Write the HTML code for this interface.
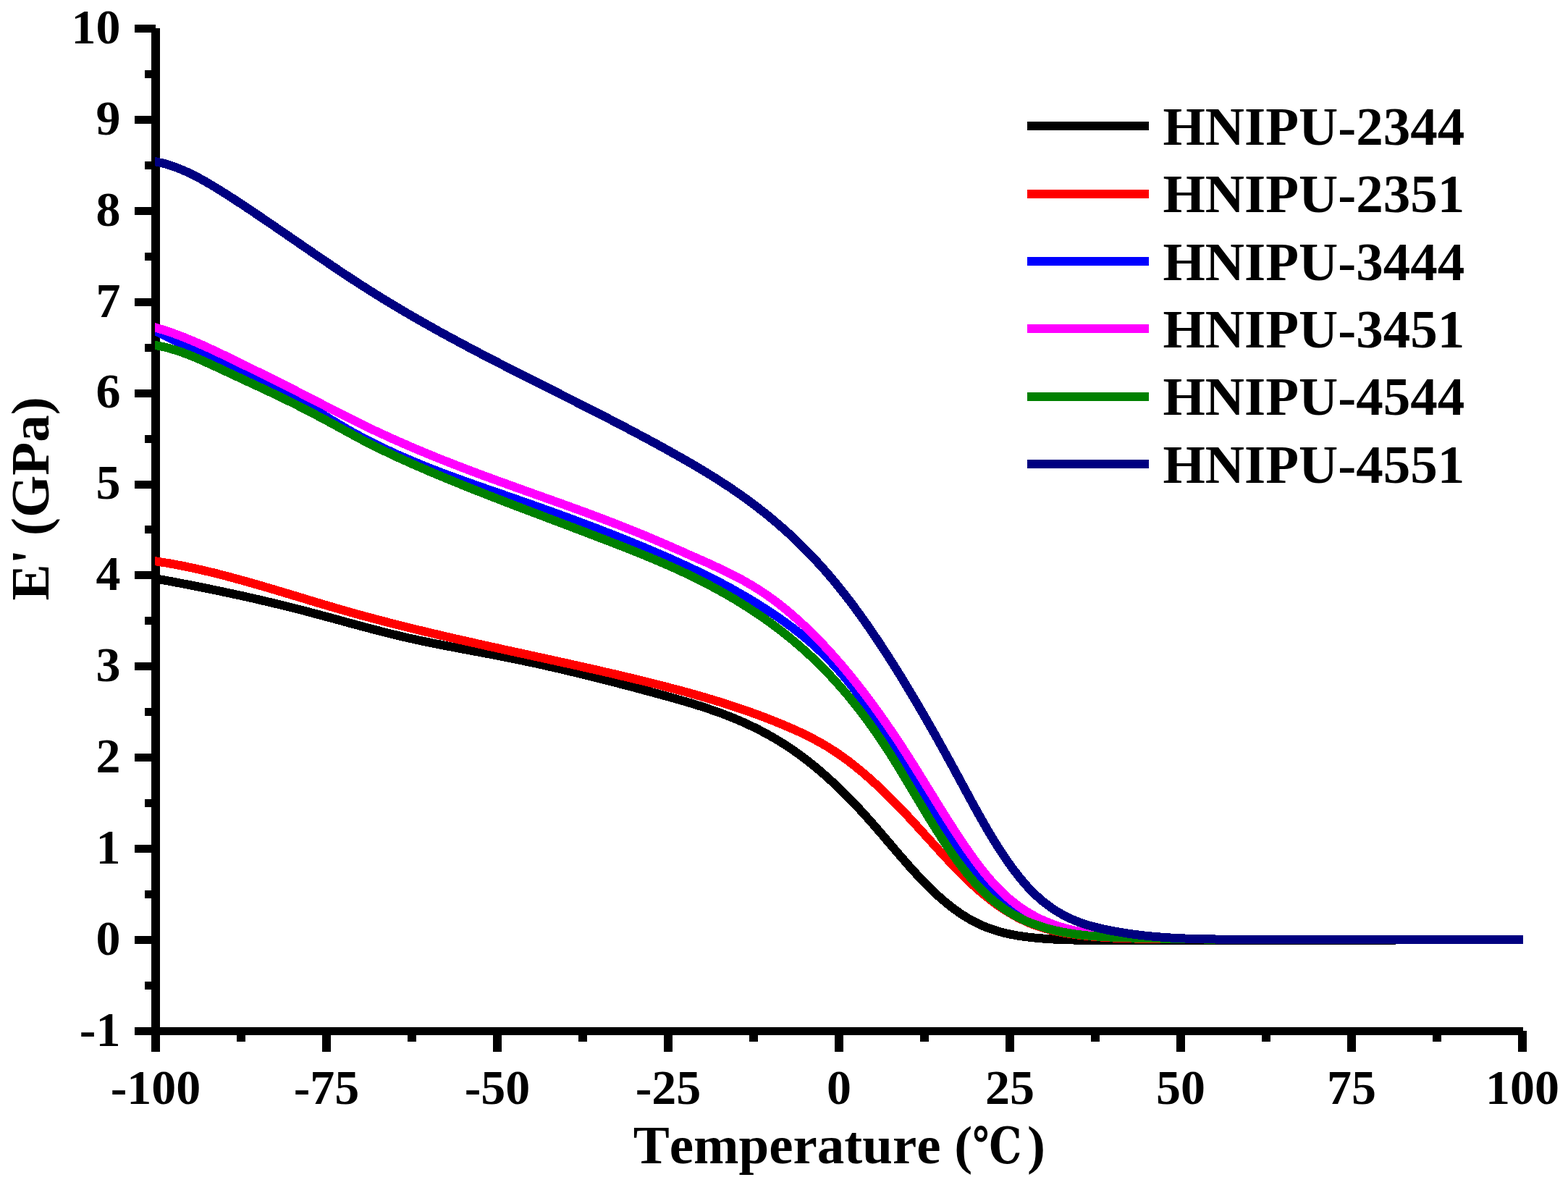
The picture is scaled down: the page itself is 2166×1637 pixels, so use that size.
<!DOCTYPE html>
<html lang="en"><head><meta charset="utf-8"><title>E' (GPa) vs Temperature</title>
<style>html,body{margin:0;padding:0;background:#fff;}body{width:2166px;height:1637px;overflow:hidden;}svg{display:block;}text{font-family:"Liberation Serif","Noto Serif CJK SC",serif;font-weight:bold;fill:#000;font-kerning:none;font-variant-ligatures:none;}.dc{font-family:"DejaVu Serif","Noto Serif CJK SC",serif;font-size:100px;}.tk{font-size:68px;}.ti{font-size:75px;}.lg{font-size:75px;}</style></head>
<body>
<svg width="2166" height="1637" viewBox="0 0 2166 1637">
<rect x="0" y="0" width="2166" height="1637" fill="#ffffff"/>
<g fill="#000" shape-rendering="crispEdges">
<rect x="209" y="39" width="12" height="1386"/>
<rect x="215" y="1419" width="1889" height="11"/>
<rect x="186" y="1419" width="29" height="11"/>
<rect x="200" y="1356" width="15" height="11"/>
<rect x="186" y="1293" width="29" height="11"/>
<rect x="200" y="1230" width="15" height="11"/>
<rect x="186" y="1167" width="29" height="11"/>
<rect x="200" y="1104" width="15" height="11"/>
<rect x="186" y="1041" width="29" height="11"/>
<rect x="200" y="978" width="15" height="11"/>
<rect x="186" y="915" width="29" height="11"/>
<rect x="200" y="852" width="15" height="11"/>
<rect x="186" y="789" width="29" height="11"/>
<rect x="200" y="726" width="15" height="11"/>
<rect x="186" y="664" width="29" height="11"/>
<rect x="200" y="601" width="15" height="11"/>
<rect x="186" y="538" width="29" height="11"/>
<rect x="200" y="475" width="15" height="11"/>
<rect x="186" y="412" width="29" height="11"/>
<rect x="200" y="349" width="15" height="11"/>
<rect x="186" y="286" width="29" height="11"/>
<rect x="200" y="223" width="15" height="11"/>
<rect x="186" y="160" width="29" height="11"/>
<rect x="200" y="97" width="15" height="11"/>
<rect x="186" y="34" width="29" height="11"/>
<rect x="209" y="1424" width="12" height="29"/>
<rect x="327" y="1424" width="12" height="15"/>
<rect x="445" y="1424" width="12" height="29"/>
<rect x="563" y="1424" width="12" height="15"/>
<rect x="681" y="1424" width="12" height="29"/>
<rect x="799" y="1424" width="12" height="15"/>
<rect x="917" y="1424" width="12" height="29"/>
<rect x="1035" y="1424" width="12" height="15"/>
<rect x="1153" y="1424" width="12" height="29"/>
<rect x="1271" y="1424" width="12" height="15"/>
<rect x="1389" y="1424" width="12" height="29"/>
<rect x="1507" y="1424" width="12" height="15"/>
<rect x="1625" y="1424" width="12" height="29"/>
<rect x="1743" y="1424" width="12" height="15"/>
<rect x="1861" y="1424" width="12" height="29"/>
<rect x="1979" y="1424" width="12" height="15"/>
<rect x="2097" y="1424" width="12" height="29"/>
</g>
<g class="tk" text-anchor="end">
<text x="166.5" y="1444.8">-1</text>
<text x="166.5" y="1318.9">0</text>
<text x="166.5" y="1193">1</text>
<text x="166.5" y="1067.1">2</text>
<text x="166.5" y="941.2">3</text>
<text x="166.5" y="815.3">4</text>
<text x="166.5" y="689.3">5</text>
<text x="166.5" y="563.4">6</text>
<text x="166.5" y="437.5">7</text>
<text x="166.5" y="311.6">8</text>
<text x="166.5" y="185.7">9</text>
<text x="166.5" y="59.8">10</text>
</g>
<g class="tk" text-anchor="middle">
<text x="215" y="1525">-100</text>
<text x="451" y="1525">-75</text>
<text x="687" y="1525">-50</text>
<text x="923" y="1525">-25</text>
<text x="1159" y="1525">0</text>
<text x="1395" y="1525">25</text>
<text x="1631" y="1525">50</text>
<text x="1867" y="1525">75</text>
<text x="2103" y="1525">100</text>
</g>
<text class="ti" x="874.7" y="1607">Temperature (</text>
<text class="dc" transform="translate(1343.5 1607.2) scale(0.567 0.695)">℃</text>
<text class="ti" x="1419" y="1607">)</text>
<text class="ti" text-anchor="middle" transform="translate(67 689) rotate(-90)">E' (GPa)</text>
<defs><clipPath id="plot"><rect x="214" y="0" width="1890" height="1637"/></clipPath></defs>
<g fill="none" stroke-width="12" stroke-linejoin="round" stroke-linecap="butt" shape-rendering="crispEdges" clip-path="url(#plot)">
<polyline stroke="#000000" points="207,797.8 215,799.2 219,800 223,800.7 227,801.5 231,802.2 235,802.9 239,803.7 243,804.5 247,805.2 251,806 255,806.8 259,807.5 263,808.3 267,809.1 271,809.9 275,810.7 279,811.5 283,812.3 287,813.1 291,813.9 295,814.8 299,815.6 303,816.4 307,817.3 311,818.1 315,819 319,819.8 323,820.7 327,821.6 331,822.4 335,823.3 339,824.2 343,825.1 347,826 351,826.9 355,827.8 359,828.7 363,829.7 367,830.6 371,831.6 375,832.5 379,833.5 383,834.4 387,835.4 391,836.4 395,837.4 399,838.4 403,839.4 407,840.4 411,841.4 415,842.4 419,843.4 423,844.5 427,845.5 431,846.6 435,847.7 439,848.7 443,849.8 447,850.9 451,852 455,853 459,854.1 463,855.2 467,856.3 471,857.4 475,858.5 479,859.6 483,860.7 487,861.8 491,862.8 495,863.9 499,865 503,866.1 507,867.1 511,868.2 515,869.2 519,870.3 523,871.3 527,872.4 531,873.4 535,874.4 539,875.4 543,876.4 547,877.3 551,878.3 555,879.2 559,880.2 563,881.1 567,882 571,882.9 575,883.7 579,884.6 583,885.5 587,886.3 591,887.1 595,887.9 599,888.8 603,889.6 607,890.3 611,891.1 615,891.9 619,892.7 623,893.4 627,894.2 631,895 635,895.7 639,896.5 643,897.2 647,898 651,898.7 655,899.5 659,900.2 663,901 667,901.7 671,902.5 675,903.2 679,904 683,904.8 687,905.5 691,906.3 695,907.1 699,907.9 703,908.7 707,909.5 711,910.3 715,911.1 719,912 723,912.8 727,913.7 731,914.5 735,915.4 739,916.2 743,917.1 747,918 751,918.9 755,919.8 759,920.7 763,921.6 767,922.5 771,923.4 775,924.4 779,925.3 783,926.2 787,927.2 791,928.2 795,929.1 799,930.1 803,931 807,932 811,933 815,934 819,935 823,936 827,937 831,938 835,939 839,940 843,941.1 847,942.1 851,943.1 855,944.2 859,945.2 863,946.2 867,947.3 871,948.3 875,949.4 879,950.5 883,951.5 887,952.6 891,953.7 895,954.8 899,955.8 903,956.9 907,958 911,959.1 915,960.2 919,961.3 923,962.4 927,963.5 931,964.6 935,965.8 939,966.9 943,968.1 947,969.2 951,970.4 955,971.6 959,972.8 963,974.1 967,975.3 971,976.6 975,977.9 979,979.3 983,980.7 987,982.1 991,983.5 995,984.9 999,986.4 1003,988 1007,989.5 1011,991.1 1015,992.7 1019,994.4 1023,996.1 1027,997.9 1031,999.7 1035,1001.6 1039,1003.5 1043,1005.4 1047,1007.4 1051,1009.5 1055,1011.6 1059,1013.8 1063,1016 1067,1018.2 1071,1020.6 1075,1023 1079,1025.4 1083,1027.9 1087,1030.5 1091,1033.2 1095,1035.9 1099,1038.7 1103,1041.5 1107,1044.5 1111,1047.5 1115,1050.5 1119,1053.7 1123,1056.9 1127,1060.2 1131,1063.5 1135,1066.9 1139,1070.4 1143,1074 1147,1077.6 1151,1081.3 1155,1085 1159,1088.8 1163,1092.7 1167,1096.7 1171,1100.7 1175,1104.7 1179,1108.9 1183,1113.1 1187,1117.4 1191,1121.7 1195,1126.1 1199,1130.6 1203,1135.1 1207,1139.6 1211,1144.2 1215,1148.9 1219,1153.5 1223,1158.2 1227,1162.9 1231,1167.6 1235,1172.3 1239,1177 1243,1181.6 1247,1186.2 1251,1190.8 1255,1195.4 1259,1199.9 1263,1204.3 1267,1208.6 1271,1212.9 1275,1217.1 1279,1221.2 1283,1225.3 1287,1229.2 1291,1233 1295,1236.7 1299,1240.3 1303,1243.7 1307,1247.1 1311,1250.3 1315,1253.5 1319,1256.5 1323,1259.3 1327,1262.1 1331,1264.7 1335,1267.2 1339,1269.6 1343,1271.8 1347,1273.9 1351,1275.9 1355,1277.7 1359,1279.5 1363,1281.1 1367,1282.6 1371,1284 1375,1285.3 1379,1286.5 1383,1287.6 1387,1288.7 1391,1289.6 1395,1290.5 1399,1291.3 1403,1292 1407,1292.7 1411,1293.3 1415,1293.9 1419,1294.4 1423,1294.9 1427,1295.3 1431,1295.7 1435,1296.1 1439,1296.4 1443,1296.7 1447,1297 1451,1297.3 1455,1297.5 1459,1297.7 1463,1297.9 1467,1298 1471,1298.2 1475,1298.3 1479,1298.4 1483,1298.5 1487,1298.5 1491,1298.6 1495,1298.6 1499,1298.6 1503,1298.6 1507,1298.6 1511,1298.6 1515,1298.6 1519,1298.6 1523,1298.6 1527,1298.6 1531,1298.6 1535,1298.6 1539,1298.6 1543,1298.6 1547,1298.6 1551,1298.6 1555,1298.6 1559,1298.6 1563,1298.6 1567,1298.6 1571,1298.6 1575,1298.6 1579,1298.6 1583,1298.6 1587,1298.6 1591,1298.6 1595,1298.6 1599,1298.6 1603,1298.6 1607,1298.6 1611,1298.6 1615,1298.6 1619,1298.6 1623,1298.6 1627,1298.6 1631,1298.6 1635,1298.6 1639,1298.6 1643,1298.6 1647,1298.6 1651,1298.6 1655,1298.6 1659,1298.6 1663,1298.6 1667,1298.6 1671,1298.6 1675,1298.6 1679,1298.6 1683,1298.6 1687,1298.6 1691,1298.6 1695,1298.6 1699,1298.6 1703,1298.6 1707,1298.6 1711,1298.6 1715,1298.6 1719,1298.6 1723,1298.6 1727,1298.6 1731,1298.6 1735,1298.6 1739,1298.6 1743,1298.6 1747,1298.6 1751,1298.6 1755,1298.6 1759,1298.6 1763,1298.6 1767,1298.6 1771,1298.6 1775,1298.6 1779,1298.6 1783,1298.6 1787,1298.6 1791,1298.6 1795,1298.6 1799,1298.6 1803,1298.6 1807,1298.6 1811,1298.6 1815,1298.6 1819,1298.6 1823,1298.6 1827,1298.6 1831,1298.6 1835,1298.6 1839,1298.6 1843,1298.6 1847,1298.6 1851,1298.6 1855,1298.6 1859,1298.6 1863,1298.6 1867,1298.6 1871,1298.6 1875,1298.6 1879,1298.6 1883,1298.6 1887,1298.6 1891,1298.6 1895,1298.6 1899,1298.6 1903,1298.6 1907,1298.6 1911,1298.6 1915,1298.6 1919,1298.6 1923,1298.6 1927,1298.6 1931,1298 1935,1298 1939,1298 1943,1298 1947,1298 1951,1298 1955,1298 1959,1298 1963,1298 1967,1298 1971,1298 1975,1298 1979,1298 1983,1298 1987,1298 1991,1298 1995,1298 1999,1298 2003,1298 2007,1298 2011,1298 2015,1298 2019,1298 2023,1298 2027,1298 2031,1298 2035,1298 2039,1298 2043,1298 2047,1298 2051,1298 2055,1298 2059,1298 2063,1298 2067,1298 2071,1298 2075,1298 2079,1298 2083,1298 2087,1298 2091,1298 2095,1298 2099,1298 2103,1298 2111,1298"/>
<polyline stroke="#ff0000" points="207,774.1 215,775.3 219,775.9 223,776.5 227,777.2 231,777.8 235,778.5 239,779.2 243,780 247,780.7 251,781.5 255,782.3 259,783.1 263,784 267,784.8 271,785.7 275,786.6 279,787.5 283,788.5 287,789.4 291,790.4 295,791.3 299,792.3 303,793.4 307,794.4 311,795.4 315,796.5 319,797.5 323,798.6 327,799.7 331,800.8 335,801.9 339,803 343,804.1 347,805.3 351,806.4 355,807.6 359,808.7 363,809.9 367,811.1 371,812.2 375,813.4 379,814.6 383,815.8 387,817 391,818.2 395,819.4 399,820.6 403,821.8 407,823 411,824.2 415,825.4 419,826.6 423,827.9 427,829.1 431,830.3 435,831.5 439,832.7 443,833.9 447,835.1 451,836.2 455,837.4 459,838.6 463,839.8 467,840.9 471,842.1 475,843.2 479,844.4 483,845.5 487,846.6 491,847.8 495,848.9 499,850 503,851.1 507,852.1 511,853.2 515,854.3 519,855.4 523,856.4 527,857.5 531,858.5 535,859.5 539,860.6 543,861.6 547,862.6 551,863.6 555,864.6 559,865.6 563,866.6 567,867.6 571,868.6 575,869.6 579,870.6 583,871.5 587,872.5 591,873.4 595,874.4 599,875.4 603,876.3 607,877.2 611,878.2 615,879.1 619,880 623,881 627,881.9 631,882.8 635,883.7 639,884.6 643,885.5 647,886.4 651,887.3 655,888.2 659,889.1 663,890 667,890.9 671,891.8 675,892.7 679,893.6 683,894.4 687,895.3 691,896.2 695,897.1 699,898 703,898.8 707,899.7 711,900.6 715,901.5 719,902.3 723,903.2 727,904.1 731,904.9 735,905.8 739,906.7 743,907.6 747,908.4 751,909.3 755,910.2 759,911.1 763,911.9 767,912.8 771,913.7 775,914.6 779,915.5 783,916.3 787,917.2 791,918.1 795,919 799,919.9 803,920.8 807,921.7 811,922.6 815,923.5 819,924.4 823,925.3 827,926.2 831,927.1 835,928.1 839,929 843,929.9 847,930.8 851,931.8 855,932.7 859,933.7 863,934.6 867,935.6 871,936.5 875,937.5 879,938.5 883,939.4 887,940.4 891,941.4 895,942.4 899,943.4 903,944.4 907,945.4 911,946.4 915,947.5 919,948.5 923,949.5 927,950.6 931,951.6 935,952.7 939,953.8 943,954.8 947,955.9 951,957 955,958.2 959,959.3 963,960.4 967,961.6 971,962.7 975,963.9 979,965.1 983,966.3 987,967.5 991,968.7 995,969.9 999,971.2 1003,972.5 1007,973.8 1011,975.1 1015,976.4 1019,977.7 1023,979.1 1027,980.4 1031,981.8 1035,983.2 1039,984.7 1043,986.1 1047,987.6 1051,989.1 1055,990.6 1059,992.1 1063,993.7 1067,995.2 1071,996.8 1075,998.5 1079,1000.1 1083,1001.8 1087,1003.5 1091,1005.2 1095,1006.9 1099,1008.7 1103,1010.5 1107,1012.4 1111,1014.3 1115,1016.3 1119,1018.3 1123,1020.4 1127,1022.5 1131,1024.7 1135,1026.9 1139,1029.2 1143,1031.6 1147,1034.1 1151,1036.7 1155,1039.3 1159,1042 1163,1044.8 1167,1047.7 1171,1050.6 1175,1053.7 1179,1056.8 1183,1060 1187,1063.3 1191,1066.6 1195,1070 1199,1073.5 1203,1077 1207,1080.7 1211,1084.3 1215,1088.1 1219,1091.9 1223,1095.7 1227,1099.7 1231,1103.6 1235,1107.6 1239,1111.7 1243,1115.9 1247,1120 1251,1124.2 1255,1128.5 1259,1132.8 1263,1137.1 1267,1141.5 1271,1145.9 1275,1150.3 1279,1154.7 1283,1159.1 1287,1163.5 1291,1167.9 1295,1172.3 1299,1176.7 1303,1181 1307,1185.3 1311,1189.6 1315,1193.8 1319,1198 1323,1202.1 1327,1206.2 1331,1210.2 1335,1214.1 1339,1217.9 1343,1221.7 1347,1225.3 1351,1228.9 1355,1232.4 1359,1235.7 1363,1239 1367,1242.2 1371,1245.2 1375,1248.2 1379,1251.1 1383,1253.8 1387,1256.5 1391,1259 1395,1261.4 1399,1263.8 1403,1266 1407,1268.1 1411,1270.1 1415,1272 1419,1273.8 1423,1275.5 1427,1277.1 1431,1278.6 1435,1279.9 1439,1281.3 1443,1282.5 1447,1283.6 1451,1284.7 1455,1285.7 1459,1286.6 1463,1287.4 1467,1288.2 1471,1289 1475,1289.6 1479,1290.2 1483,1290.8 1487,1291.3 1491,1291.8 1495,1292.3 1499,1292.7 1503,1293.1 1507,1293.5 1511,1293.8 1515,1294.1 1519,1294.4 1523,1294.7 1527,1294.9 1531,1295.2 1535,1295.4 1539,1295.6 1543,1295.8 1547,1295.9 1551,1296.1 1555,1296.2 1559,1296.3 1563,1296.4 1567,1296.5 1571,1296.6 1575,1296.7 1579,1296.8 1583,1296.8 1587,1296.9 1591,1296.9 1595,1297 1599,1297 1603,1297 1607,1297.1 1611,1297.1 1615,1297.1 1619,1297.1 1623,1297.1 1627,1297.2 1631,1297.2 1635,1297.2 1639,1297.2 1643,1296.7 1647,1296.9 1651,1297 1655,1297.1 1659,1297.2 1663,1297.3 1667,1297.3 1671,1297.4 1675,1297.4 1679,1297.5 1683,1297.5 1687,1297.6 1691,1297.6 1695,1297.6 1699,1297.6 1703,1297.6 1707,1297.6 1711,1297.6 1715,1297.6 1719,1297.6 1723,1297.6 1727,1297.6 1731,1297.6 1735,1297.6 1739,1297.6 1743,1297.6 1747,1297.6 1751,1297.6 1755,1297.6 1759,1297.6 1763,1297.6 1767,1297.6 1771,1297.7 1775,1297.7 1779,1297.7 1783,1297.7 1787,1297.7 1791,1297.7 1795,1297.7 1799,1297.7 1803,1297.7 1807,1297.7 1811,1297.7 1815,1297.7 1819,1297.7 1823,1297.8 1827,1297.8 1831,1297.8 1835,1297.8 1839,1297.8 1843,1297.8 1847,1297.8 1851,1297.8 1855,1297.8 1859,1297.9 1863,1297.9 1867,1297.9 1871,1297.9 1875,1297.9 1879,1297.9 1883,1297.9 1887,1297.9 1891,1298 1895,1298 1899,1298 1903,1298 1907,1298 1911,1298 1915,1298 1919,1298 1923,1298 1927,1298 1931,1298 1935,1298 1939,1298 1943,1298 1947,1298 1951,1298 1955,1298 1959,1298 1963,1298 1967,1298 1971,1298 1975,1298 1979,1298 1983,1298 1987,1298 1991,1298 1995,1298 1999,1298 2003,1298 2007,1298 2011,1298 2015,1298 2019,1298 2023,1298 2027,1298 2031,1298 2035,1298 2039,1298 2043,1298 2047,1298 2051,1298 2055,1298 2059,1298 2063,1298 2067,1298 2071,1298 2075,1298 2079,1298 2083,1298 2087,1298 2091,1298 2095,1298 2099,1298 2103,1298 2111,1298"/>
<polyline stroke="#0000ff" points="207,453.4 215,457.5 219,459.5 223,461.5 227,463.5 231,465.5 235,467.4 239,469.3 243,471.2 247,473.1 251,475 255,476.8 259,478.7 263,480.5 267,482.3 271,484.1 275,486 279,487.7 283,489.5 287,491.3 291,493.1 295,494.9 299,496.7 303,498.5 307,500.3 311,502.1 315,503.9 319,505.7 323,507.5 327,509.3 331,511.2 335,513 339,514.9 343,516.8 347,518.7 351,520.6 355,522.5 359,524.5 363,526.4 367,528.4 371,530.4 375,532.5 379,534.6 383,536.7 387,538.8 391,540.9 395,543.1 399,545.3 403,547.5 407,549.7 411,552 415,554.3 419,556.6 423,558.9 427,561.3 431,563.6 435,566 439,568.4 443,570.9 447,573.3 451,575.7 455,578.2 459,580.6 463,583 467,585.4 471,587.8 475,590.1 479,592.5 483,594.7 487,597 491,599.2 495,601.4 499,603.5 503,605.7 507,607.7 511,609.8 515,611.8 519,613.8 523,615.8 527,617.7 531,619.7 535,621.5 539,623.4 543,625.2 547,627.1 551,628.9 555,630.6 559,632.4 563,634.1 567,635.8 571,637.5 575,639.1 579,640.8 583,642.4 587,644 591,645.6 595,647.2 599,648.8 603,650.3 607,651.8 611,653.4 615,654.9 619,656.4 623,657.8 627,659.3 631,660.8 635,662.2 639,663.7 643,665.1 647,666.5 651,667.9 655,669.4 659,670.8 663,672.2 667,673.6 671,675 675,676.4 679,677.8 683,679.1 687,680.5 691,681.9 695,683.3 699,684.7 703,686.1 707,687.5 711,688.9 715,690.3 719,691.7 723,693.1 727,694.5 731,695.9 735,697.3 739,698.7 743,700.1 747,701.6 751,703 755,704.4 759,705.9 763,707.3 767,708.8 771,710.2 775,711.7 779,713.1 783,714.6 787,716.1 791,717.5 795,719 799,720.5 803,722 807,723.5 811,725 815,726.5 819,728 823,729.6 827,731.1 831,732.6 835,734.2 839,735.8 843,737.3 847,738.9 851,740.5 855,742.1 859,743.7 863,745.3 867,746.9 871,748.5 875,750.2 879,751.8 883,753.4 887,755.1 891,756.8 895,758.5 899,760.2 903,761.9 907,763.6 911,765.3 915,767 919,768.8 923,770.5 927,772.3 931,774.1 935,775.9 939,777.7 943,779.5 947,781.4 951,783.2 955,785.1 959,787 963,788.9 967,790.8 971,792.8 975,794.7 979,796.7 983,798.7 987,800.8 991,802.8 995,804.9 999,807 1003,809.2 1007,811.3 1011,813.5 1015,815.7 1019,818 1023,820.3 1027,822.6 1031,824.9 1035,827.3 1039,829.7 1043,832.1 1047,834.6 1051,837.1 1055,839.7 1059,842.2 1063,844.9 1067,847.5 1071,850.2 1075,852.9 1079,855.7 1083,858.5 1087,861.4 1091,864.4 1095,867.3 1099,870.4 1103,873.5 1107,876.7 1111,880 1115,883.3 1119,886.7 1123,890.3 1127,893.9 1131,897.6 1135,901.4 1139,905.3 1143,909.3 1147,913.4 1151,917.6 1155,922 1159,926.5 1163,931.1 1167,935.8 1171,940.7 1175,945.6 1179,950.7 1183,956 1187,961.3 1191,966.7 1195,972.3 1199,977.9 1203,983.6 1207,989.5 1211,995.4 1215,1001.3 1219,1007.4 1223,1013.5 1227,1019.7 1231,1026 1235,1032.4 1239,1038.7 1243,1045.2 1247,1051.7 1251,1058.2 1255,1064.7 1259,1071.3 1263,1077.9 1267,1084.5 1271,1091.1 1275,1097.7 1279,1104.2 1283,1110.7 1287,1117.2 1291,1123.7 1295,1130.1 1299,1136.5 1303,1142.7 1307,1148.9 1311,1155.1 1315,1161.1 1319,1167 1323,1172.9 1327,1178.6 1331,1184.2 1335,1189.7 1339,1195 1343,1200.2 1347,1205.2 1351,1210.1 1355,1214.8 1359,1219.3 1363,1223.6 1367,1227.8 1371,1231.8 1375,1235.5 1379,1239.1 1383,1242.5 1387,1245.8 1391,1248.9 1395,1251.8 1399,1254.6 1403,1257.2 1407,1259.7 1411,1262.1 1415,1264.3 1419,1266.4 1423,1268.4 1427,1270.3 1431,1272 1435,1273.7 1439,1275.3 1443,1276.7 1447,1278.1 1451,1279.4 1455,1280.7 1459,1281.9 1463,1283 1467,1284 1471,1285 1475,1286 1479,1286.8 1483,1287.7 1487,1288.5 1491,1289.2 1495,1289.9 1499,1290.6 1503,1291.2 1507,1291.8 1511,1292.2 1515,1292.5 1519,1292.8 1523,1293 1527,1293.2 1531,1293.4 1535,1293.6 1539,1293.8 1543,1293.9 1547,1294.1 1551,1294.2 1555,1294.3 1559,1294.4 1563,1294.5 1567,1294.6 1571,1294.7 1575,1294.8 1579,1294.9 1583,1295 1587,1295.1 1591,1295.2 1595,1295.4 1599,1295.5 1603,1295.7 1607,1295.8 1611,1296 1615,1296.1 1619,1296.2 1623,1296.4 1627,1296.5 1631,1296.6 1635,1296.7 1639,1296.8 1643,1296.7 1647,1296.9 1651,1297 1655,1297.1 1659,1297.2 1663,1297.3 1667,1297.3 1671,1297.4 1675,1297.4 1679,1297.5 1683,1297.5 1687,1297.6 1691,1297.6 1695,1297.6 1699,1297.6 1703,1297.6 1707,1297.6 1711,1297.6 1715,1297.6 1719,1297.6 1723,1297.6 1727,1297.6 1731,1297.6 1735,1297.6 1739,1297.6 1743,1297.6 1747,1297.6 1751,1297.6 1755,1297.6 1759,1297.6 1763,1297.6 1767,1297.6 1771,1297.7 1775,1297.7 1779,1297.7 1783,1297.7 1787,1297.7 1791,1297.7 1795,1297.7 1799,1297.7 1803,1297.7 1807,1297.7 1811,1297.7 1815,1297.7 1819,1297.7 1823,1297.8 1827,1297.8 1831,1297.8 1835,1297.8 1839,1297.8 1843,1297.8 1847,1297.8 1851,1297.8 1855,1297.8 1859,1297.9 1863,1297.9 1867,1297.9 1871,1297.9 1875,1297.9 1879,1297.9 1883,1297.9 1887,1297.9 1891,1298 1895,1298 1899,1298 1903,1298 1907,1298 1911,1298 1915,1298 1919,1298 1923,1298 1927,1298 1931,1298 1935,1298 1939,1298 1943,1298 1947,1298 1951,1298 1955,1298 1959,1298 1963,1298 1967,1298 1971,1298 1975,1298 1979,1298 1983,1298 1987,1298 1991,1298 1995,1298 1999,1298 2003,1298 2007,1298 2011,1298 2015,1298 2019,1298 2023,1298 2027,1298 2031,1298 2035,1298 2039,1298 2043,1298 2047,1298 2051,1298 2055,1298 2059,1298 2063,1298 2067,1298 2071,1298 2075,1298 2079,1298 2083,1298 2087,1298 2091,1298 2095,1298 2099,1298 2103,1298 2111,1298"/>
<polyline stroke="#ff00ff" points="207,450.3 215,452.6 219,453.8 223,455 227,456.2 231,457.5 235,458.9 239,460.3 243,461.7 247,463.2 251,464.8 255,466.3 259,468 263,469.6 267,471.3 271,473 275,474.7 279,476.5 283,478.3 287,480.1 291,482 295,483.8 299,485.7 303,487.6 307,489.5 311,491.4 315,493.4 319,495.3 323,497.3 327,499.2 331,501.2 335,503.1 339,505.1 343,507 347,509 351,511 355,513 359,514.9 363,516.9 367,518.9 371,520.9 375,522.9 379,524.9 383,526.9 387,528.9 391,530.9 395,532.9 399,534.9 403,536.9 407,538.9 411,541 415,543 419,545.1 423,547.1 427,549.2 431,551.2 435,553.3 439,555.4 443,557.4 447,559.5 451,561.6 455,563.6 459,565.7 463,567.7 467,569.8 471,571.8 475,573.9 479,575.9 483,577.9 487,579.9 491,581.9 495,583.9 499,585.9 503,587.8 507,589.8 511,591.7 515,593.6 519,595.5 523,597.3 527,599.2 531,601 535,602.9 539,604.7 543,606.5 547,608.3 551,610 555,611.8 559,613.5 563,615.3 567,617 571,618.7 575,620.4 579,622.1 583,623.8 587,625.4 591,627.1 595,628.7 599,630.3 603,632 607,633.6 611,635.2 615,636.8 619,638.3 623,639.9 627,641.5 631,643 635,644.6 639,646.1 643,647.6 647,649.2 651,650.7 655,652.2 659,653.7 663,655.2 667,656.7 671,658.1 675,659.6 679,661.1 683,662.5 687,664 691,665.5 695,666.9 699,668.3 703,669.8 707,671.2 711,672.7 715,674.1 719,675.5 723,677 727,678.4 731,679.8 735,681.3 739,682.7 743,684.1 747,685.5 751,687 755,688.4 759,689.8 763,691.3 767,692.7 771,694.1 775,695.6 779,697 783,698.5 787,699.9 791,701.4 795,702.8 799,704.3 803,705.7 807,707.2 811,708.7 815,710.2 819,711.7 823,713.2 827,714.7 831,716.2 835,717.7 839,719.2 843,720.8 847,722.3 851,723.9 855,725.4 859,727 863,728.6 867,730.2 871,731.8 875,733.4 879,735 883,736.6 887,738.3 891,739.9 895,741.6 899,743.3 903,745 907,746.7 911,748.4 915,750.1 919,751.9 923,753.6 927,755.4 931,757.1 935,758.9 939,760.6 943,762.4 947,764.2 951,766 955,767.7 959,769.5 963,771.3 967,773.1 971,774.8 975,776.6 979,778.4 983,780.2 987,782.1 991,783.9 995,785.8 999,787.7 1003,789.6 1007,791.6 1011,793.6 1015,795.6 1019,797.7 1023,799.8 1027,802 1031,804.3 1035,806.6 1039,808.9 1043,811.4 1047,813.9 1051,816.5 1055,819.1 1059,821.9 1063,824.7 1067,827.6 1071,830.6 1075,833.6 1079,836.7 1083,839.9 1087,843.2 1091,846.5 1095,850 1099,853.5 1103,857 1107,860.7 1111,864.4 1115,868.2 1119,872.1 1123,876 1127,880 1131,884.1 1135,888.3 1139,892.5 1143,896.8 1147,901.2 1151,905.7 1155,910.2 1159,914.8 1163,919.4 1167,924.2 1171,929 1175,933.9 1179,938.8 1183,943.8 1187,948.9 1191,954.1 1195,959.3 1199,964.6 1203,970 1207,975.4 1211,980.9 1215,986.5 1219,992.1 1223,997.9 1227,1003.6 1231,1009.5 1235,1015.4 1239,1021.4 1243,1027.4 1247,1033.5 1251,1039.7 1255,1046 1259,1052.3 1263,1058.6 1267,1065 1271,1071.4 1275,1077.9 1279,1084.4 1283,1090.9 1287,1097.3 1291,1103.8 1295,1110.3 1299,1116.7 1303,1123.1 1307,1129.5 1311,1135.8 1315,1142 1319,1148.2 1323,1154.3 1327,1160.3 1331,1166.3 1335,1172.1 1339,1177.8 1343,1183.4 1347,1188.9 1351,1194.3 1355,1199.5 1359,1204.6 1363,1209.5 1367,1214.2 1371,1218.8 1375,1223.1 1379,1227.3 1383,1231.3 1387,1235.2 1391,1238.8 1395,1242.3 1399,1245.6 1403,1248.7 1407,1251.7 1411,1254.5 1415,1257.2 1419,1259.7 1423,1262.1 1427,1264.4 1431,1266.5 1435,1268.5 1439,1270.5 1443,1272.3 1447,1273.9 1451,1275.5 1455,1277 1459,1278.5 1463,1279.8 1467,1281 1471,1282.2 1475,1283.3 1479,1284.3 1483,1285.2 1487,1286.1 1491,1286.9 1495,1287.6 1499,1288.3 1503,1288.9 1507,1289.5 1511,1290 1515,1290.5 1519,1291 1523,1291.4 1527,1291.7 1531,1292.1 1535,1292.4 1539,1292.7 1543,1292.9 1547,1293.2 1551,1293.4 1555,1293.6 1559,1293.8 1563,1294 1567,1294.2 1571,1294.4 1575,1294.6 1579,1294.7 1583,1294.9 1587,1295.1 1591,1295.2 1595,1295.4 1599,1295.5 1603,1295.7 1607,1295.8 1611,1296 1615,1296.1 1619,1296.2 1623,1296.4 1627,1296.5 1631,1296.6 1635,1296.7 1639,1296.8 1643,1296.7 1647,1296.9 1651,1297 1655,1297.1 1659,1297.2 1663,1297.3 1667,1297.3 1671,1297.4 1675,1297.4 1679,1297.5 1683,1297.5 1687,1297.6 1691,1297.6 1695,1297.6 1699,1297.6 1703,1297.6 1707,1297.6 1711,1297.6 1715,1297.6 1719,1297.6 1723,1297.6 1727,1297.6 1731,1297.6 1735,1297.6 1739,1297.6 1743,1297.6 1747,1297.6 1751,1297.6 1755,1297.6 1759,1297.6 1763,1297.6 1767,1297.6 1771,1297.7 1775,1297.7 1779,1297.7 1783,1297.7 1787,1297.7 1791,1297.7 1795,1297.7 1799,1297.7 1803,1297.7 1807,1297.7 1811,1297.7 1815,1297.7 1819,1297.7 1823,1297.8 1827,1297.8 1831,1297.8 1835,1297.8 1839,1297.8 1843,1297.8 1847,1297.8 1851,1297.8 1855,1297.8 1859,1297.9 1863,1297.9 1867,1297.9 1871,1297.9 1875,1297.9 1879,1297.9 1883,1297.9 1887,1297.9 1891,1298 1895,1298 1899,1298 1903,1298 1907,1298 1911,1298 1915,1298 1919,1298 1923,1298 1927,1298 1931,1298 1935,1298 1939,1298 1943,1298 1947,1298 1951,1298 1955,1298 1959,1298 1963,1298 1967,1298 1971,1298 1975,1298 1979,1298 1983,1298 1987,1298 1991,1298 1995,1298 1999,1298 2003,1298 2007,1298 2011,1298 2015,1298 2019,1298 2023,1298 2027,1298 2031,1298 2035,1298 2039,1298 2043,1298 2047,1298 2051,1298 2055,1298 2059,1298 2063,1298 2067,1298 2071,1298 2075,1298 2079,1298 2083,1298 2087,1298 2091,1298 2095,1298 2099,1298 2103,1298 2111,1298"/>
<polyline stroke="#008000" points="207,475.7 215,477.1 219,477.8 223,478.6 227,479.4 231,480.4 235,481.5 239,482.7 243,483.9 247,485.2 251,486.6 255,488.1 259,489.6 263,491.1 267,492.8 271,494.4 275,496.1 279,497.9 283,499.7 287,501.5 291,503.3 295,505.2 299,507 303,508.9 307,510.8 311,512.6 315,514.5 319,516.4 323,518.2 327,520.1 331,521.9 335,523.8 339,525.7 343,527.5 347,529.4 351,531.2 355,533.1 359,535 363,536.8 367,538.7 371,540.6 375,542.5 379,544.4 383,546.3 387,548.2 391,550.2 395,552.1 399,554.1 403,556 407,558 411,560 415,562.1 419,564.1 423,566.2 427,568.2 431,570.3 435,572.4 439,574.5 443,576.7 447,578.8 451,580.9 455,583.1 459,585.2 463,587.4 467,589.6 471,591.8 475,594 479,596.1 483,598.3 487,600.5 491,602.7 495,604.8 499,607 503,609.1 507,611.2 511,613.2 515,615.2 519,617.2 523,619.2 527,621.2 531,623.1 535,625 539,626.9 543,628.8 547,630.7 551,632.5 555,634.3 559,636.1 563,637.9 567,639.7 571,641.5 575,643.2 579,645 583,646.7 587,648.4 591,650.2 595,651.9 599,653.6 603,655.2 607,656.9 611,658.6 615,660.2 619,661.9 623,663.5 627,665.2 631,666.8 635,668.4 639,670.1 643,671.7 647,673.3 651,674.9 655,676.5 659,678.1 663,679.6 667,681.2 671,682.8 675,684.4 679,685.9 683,687.5 687,689 691,690.6 695,692.1 699,693.7 703,695.2 707,696.7 711,698.3 715,699.8 719,701.3 723,702.8 727,704.4 731,705.9 735,707.4 739,708.9 743,710.4 747,711.9 751,713.4 755,715 759,716.5 763,718 767,719.5 771,721 775,722.5 779,724 783,725.5 787,727 791,728.6 795,730.1 799,731.6 803,733.1 807,734.6 811,736.1 815,737.7 819,739.2 823,740.7 827,742.3 831,743.8 835,745.3 839,746.9 843,748.4 847,750 851,751.5 855,753.1 859,754.6 863,756.2 867,757.8 871,759.4 875,761 879,762.6 883,764.2 887,765.8 891,767.4 895,769.1 899,770.7 903,772.4 907,774.1 911,775.8 915,777.5 919,779.3 923,781 927,782.8 931,784.6 935,786.4 939,788.2 943,790.1 947,791.9 951,793.8 955,795.8 959,797.7 963,799.7 967,801.7 971,803.7 975,805.8 979,807.8 983,810 987,812.1 991,814.3 995,816.5 999,818.7 1003,821 1007,823.3 1011,825.6 1015,828 1019,830.4 1023,832.9 1027,835.4 1031,837.9 1035,840.4 1039,843.1 1043,845.7 1047,848.4 1051,851.1 1055,853.9 1059,856.7 1063,859.6 1067,862.5 1071,865.5 1075,868.5 1079,871.5 1083,874.7 1087,877.9 1091,881.1 1095,884.4 1099,887.8 1103,891.2 1107,894.7 1111,898.2 1115,901.8 1119,905.5 1123,909.3 1127,913.1 1131,917 1135,921 1139,925.1 1143,929.2 1147,933.4 1151,937.7 1155,942.1 1159,946.6 1163,951.2 1167,955.8 1171,960.5 1175,965.4 1179,970.3 1183,975.3 1187,980.4 1191,985.6 1195,990.9 1199,996.3 1203,1001.9 1207,1007.5 1211,1013.2 1215,1019 1219,1025 1223,1031 1227,1037.2 1231,1043.5 1235,1049.9 1239,1056.3 1243,1062.9 1247,1069.5 1251,1076.1 1255,1082.8 1259,1089.5 1263,1096.2 1267,1102.9 1271,1109.6 1275,1116.3 1279,1122.9 1283,1129.4 1287,1135.9 1291,1142.3 1295,1148.6 1299,1154.9 1303,1161 1307,1167 1311,1172.9 1315,1178.7 1319,1184.4 1323,1189.9 1327,1195.3 1331,1200.5 1335,1205.6 1339,1210.5 1343,1215.2 1347,1219.8 1351,1224.2 1355,1228.3 1359,1232.3 1363,1236.1 1367,1239.8 1371,1243.2 1375,1246.5 1379,1249.6 1383,1252.6 1387,1255.4 1391,1258.1 1395,1260.6 1399,1263 1403,1265.2 1407,1267.3 1411,1269.3 1415,1271.2 1419,1273 1423,1274.6 1427,1276.2 1431,1277.6 1435,1279 1439,1280.3 1443,1281.5 1447,1282.7 1451,1283.7 1455,1284.7 1459,1285.7 1463,1286.5 1467,1287.4 1471,1288.1 1475,1288.8 1479,1289.5 1483,1290.1 1487,1290.7 1491,1291.2 1495,1291.7 1499,1292.1 1503,1292.5 1507,1292.9 1511,1293.2 1515,1293.5 1519,1293.8 1523,1294 1527,1294.2 1531,1294.4 1535,1294.6 1539,1294.8 1543,1294.9 1547,1295.1 1551,1295.2 1555,1295.3 1559,1295.4 1563,1295.5 1567,1295.6 1571,1295.7 1575,1295.8 1579,1295.9 1583,1296 1587,1296.1 1591,1296.2 1595,1296.3 1599,1296.4 1603,1296.5 1607,1296.6 1611,1296.6 1615,1296.7 1619,1296.8 1623,1296.9 1627,1296.9 1631,1297 1635,1297.1 1639,1297.1 1643,1297.2 1647,1297.3 1651,1297.3 1655,1297.4 1659,1297.4 1663,1297.5 1667,1297.5 1671,1297.6 1675,1297.6 1679,1297.7 1683,1297.7 1687,1297.8 1691,1297.8 1695,1297.9 1699,1297.9 1703,1297.9 1707,1298 1711,1298 1715,1298 1719,1298.1 1723,1298.1 1727,1298.1 1731,1298.1 1735,1298.2 1739,1298.2 1743,1298.2 1747,1298.2 1751,1298.2 1755,1298.3 1759,1298.3 1763,1298.3 1767,1298.3 1771,1298.3 1775,1298.3 1779,1298.3 1783,1298.4 1787,1298.4 1791,1298 1795,1298 1799,1298 1803,1298 1807,1298 1811,1298 1815,1298 1819,1298 1823,1298 1827,1298 1831,1298 1835,1298 1839,1298 1843,1298 1847,1298 1851,1298 1855,1298 1859,1298 1863,1298 1867,1298 1871,1298 1875,1298 1879,1298 1883,1298 1887,1298 1891,1298 1895,1298 1899,1298 1903,1298 1907,1298 1911,1298 1915,1298 1919,1298 1923,1298 1927,1298 1931,1298 1935,1298 1939,1298 1943,1298 1947,1298 1951,1298 1955,1298 1959,1298 1963,1298 1967,1298 1971,1298 1975,1298 1979,1298 1983,1298 1987,1298 1991,1298 1995,1298 1999,1298 2003,1298 2007,1298 2011,1298 2015,1298 2019,1298 2023,1298 2027,1298 2031,1298 2035,1298 2039,1298 2043,1298 2047,1298 2051,1298 2055,1298 2059,1298 2063,1298 2067,1298 2071,1298 2075,1298 2079,1298 2083,1298 2087,1298 2091,1298 2095,1298 2099,1298 2103,1298 2111,1298"/>
<polyline stroke="#000080" points="207,221.7 215,223.3 219,224.1 223,225 227,226 231,227.2 235,228.4 239,229.8 243,231.2 247,232.8 251,234.4 255,236.1 259,237.9 263,239.8 267,241.8 271,243.8 275,245.9 279,248.1 283,250.3 287,252.6 291,255 295,257.4 299,259.8 303,262.3 307,264.8 311,267.3 315,269.9 319,272.4 323,275 327,277.7 331,280.3 335,282.9 339,285.6 343,288.3 347,290.9 351,293.6 355,296.3 359,299 363,301.7 367,304.4 371,307.2 375,309.9 379,312.6 383,315.4 387,318.1 391,320.8 395,323.6 399,326.3 403,329.1 407,331.8 411,334.6 415,337.3 419,340.1 423,342.8 427,345.6 431,348.3 435,351.1 439,353.8 443,356.5 447,359.2 451,361.9 455,364.7 459,367.4 463,370 467,372.7 471,375.4 475,378.1 479,380.7 483,383.3 487,386 491,388.6 495,391.2 499,393.8 503,396.3 507,398.9 511,401.4 515,403.9 519,406.4 523,408.9 527,411.4 531,413.9 535,416.3 539,418.7 543,421.1 547,423.5 551,425.9 555,428.3 559,430.6 563,433 567,435.3 571,437.6 575,439.9 579,442.2 583,444.5 587,446.8 591,449 595,451.3 599,453.5 603,455.7 607,458 611,460.2 615,462.4 619,464.5 623,466.7 627,468.9 631,471 635,473.2 639,475.3 643,477.4 647,479.6 651,481.7 655,483.8 659,485.9 663,488 667,490.1 671,492.2 675,494.2 679,496.3 683,498.4 687,500.4 691,502.5 695,504.5 699,506.6 703,508.6 707,510.7 711,512.7 715,514.7 719,516.7 723,518.8 727,520.8 731,522.8 735,524.8 739,526.8 743,528.9 747,530.9 751,532.9 755,534.9 759,536.9 763,538.9 767,540.9 771,542.9 775,545 779,547 783,549 787,551 791,553 795,555 799,557.1 803,559.1 807,561.1 811,563.1 815,565.2 819,567.2 823,569.2 827,571.3 831,573.3 835,575.4 839,577.4 843,579.5 847,581.6 851,583.7 855,585.7 859,587.8 863,589.9 867,592 871,594.1 875,596.2 879,598.4 883,600.5 887,602.6 891,604.8 895,606.9 899,609.1 903,611.2 907,613.4 911,615.6 915,617.8 919,620 923,622.2 927,624.5 931,626.7 935,629 939,631.2 943,633.5 947,635.8 951,638.1 955,640.4 959,642.8 963,645.1 967,647.5 971,649.9 975,652.3 979,654.8 983,657.2 987,659.7 991,662.2 995,664.8 999,667.4 1003,670 1007,672.6 1011,675.3 1015,678.1 1019,680.8 1023,683.6 1027,686.4 1031,689.3 1035,692.2 1039,695.2 1043,698.2 1047,701.3 1051,704.4 1055,707.5 1059,710.7 1063,714 1067,717.3 1071,720.7 1075,724.1 1079,727.6 1083,731.1 1087,734.7 1091,738.3 1095,742.1 1099,745.9 1103,749.7 1107,753.6 1111,757.6 1115,761.7 1119,765.8 1123,770 1127,774.3 1131,778.6 1135,783 1139,787.5 1143,792.1 1147,796.8 1151,801.5 1155,806.3 1159,811.3 1163,816.3 1167,821.3 1171,826.5 1175,831.7 1179,837.1 1183,842.5 1187,848 1191,853.5 1195,859.2 1199,864.9 1203,870.7 1207,876.6 1211,882.5 1215,888.5 1219,894.6 1223,900.7 1227,906.9 1231,913.2 1235,919.5 1239,925.9 1243,932.3 1247,938.8 1251,945.4 1255,952 1259,958.7 1263,965.4 1267,972.2 1271,979.1 1275,985.9 1279,992.9 1283,999.8 1287,1006.9 1291,1013.9 1295,1021 1299,1028.2 1303,1035.4 1307,1042.6 1311,1049.9 1315,1057.2 1319,1064.5 1323,1071.9 1327,1079.3 1331,1086.7 1335,1094.1 1339,1101.4 1343,1108.8 1347,1116.1 1351,1123.3 1355,1130.4 1359,1137.4 1363,1144.3 1367,1151.1 1371,1157.8 1375,1164.3 1379,1170.6 1383,1176.8 1387,1182.8 1391,1188.7 1395,1194.4 1399,1199.9 1403,1205.2 1407,1210.3 1411,1215.2 1415,1220 1419,1224.5 1423,1228.7 1427,1232.8 1431,1236.7 1435,1240.3 1439,1243.8 1443,1247.1 1447,1250.1 1451,1253.1 1455,1255.8 1459,1258.4 1463,1260.8 1467,1263.1 1471,1265.2 1475,1267.3 1479,1269.1 1483,1270.9 1487,1272.5 1491,1274.1 1495,1275.5 1499,1276.8 1503,1278.1 1507,1279.2 1511,1280.3 1515,1281.3 1519,1282.3 1523,1283.2 1527,1284.1 1531,1284.9 1535,1285.7 1539,1286.4 1543,1287.1 1547,1287.8 1551,1288.5 1555,1289.1 1559,1289.7 1563,1290.3 1567,1290.8 1571,1291.3 1575,1291.8 1579,1292.3 1583,1292.7 1587,1293.1 1591,1293.5 1595,1293.9 1599,1294.2 1603,1294.5 1607,1294.8 1611,1295.1 1615,1295.4 1619,1295.6 1623,1295.8 1627,1296.1 1631,1296.2 1635,1296.4 1639,1296.6 1643,1296.7 1647,1296.9 1651,1297 1655,1297.1 1659,1297.2 1663,1297.3 1667,1297.3 1671,1297.4 1675,1297.4 1679,1297.5 1683,1297.5 1687,1297.6 1691,1297.6 1695,1297.6 1699,1297.6 1703,1297.6 1707,1297.6 1711,1297.6 1715,1297.6 1719,1297.6 1723,1297.6 1727,1297.6 1731,1297.6 1735,1297.6 1739,1297.6 1743,1297.6 1747,1297.6 1751,1297.6 1755,1297.6 1759,1297.6 1763,1297.6 1767,1297.6 1771,1297.7 1775,1297.7 1779,1297.7 1783,1297.7 1787,1297.7 1791,1297.7 1795,1297.7 1799,1297.7 1803,1297.7 1807,1297.7 1811,1297.7 1815,1297.7 1819,1297.7 1823,1297.8 1827,1297.8 1831,1297.8 1835,1297.8 1839,1297.8 1843,1297.8 1847,1297.8 1851,1297.8 1855,1297.8 1859,1297.9 1863,1297.9 1867,1297.9 1871,1297.9 1875,1297.9 1879,1297.9 1883,1297.9 1887,1297.9 1891,1298 1895,1298 1899,1298 1903,1298 1907,1298 1911,1298 1915,1298 1919,1298 1923,1298 1927,1298 1931,1298 1935,1298 1939,1298 1943,1298 1947,1298 1951,1298 1955,1298 1959,1298 1963,1298 1967,1298 1971,1298 1975,1298 1979,1298 1983,1298 1987,1298 1991,1298 1995,1298 1999,1298 2003,1298 2007,1298 2011,1298 2015,1298 2019,1298 2023,1298 2027,1298 2031,1298 2035,1298 2039,1298 2043,1298 2047,1298 2051,1298 2055,1298 2059,1298 2063,1298 2067,1298 2071,1298 2075,1298 2079,1298 2083,1298 2087,1298 2091,1298 2095,1298 2099,1298 2103,1298 2111,1298"/>
</g>
<g shape-rendering="crispEdges">
<rect x="1419" y="168" width="168" height="12" fill="#000000"/>
<rect x="1419" y="262" width="168" height="12" fill="#ff0000"/>
<rect x="1419" y="355" width="168" height="12" fill="#0000ff"/>
<rect x="1419" y="448" width="168" height="12" fill="#ff00ff"/>
<rect x="1419" y="542" width="168" height="12" fill="#008000"/>
<rect x="1419" y="635" width="168" height="12" fill="#000080"/>
</g>
<g class="lg">
<text x="1606.5" y="199.8">HNIPU-2344</text>
<text x="1606.5" y="293.1">HNIPU-2351</text>
<text x="1606.5" y="386.5">HNIPU-3444</text>
<text x="1606.5" y="479.8">HNIPU-3451</text>
<text x="1606.5" y="573.1">HNIPU-4544</text>
<text x="1606.5" y="666.5">HNIPU-4551</text>
</g>
</svg></body></html>
